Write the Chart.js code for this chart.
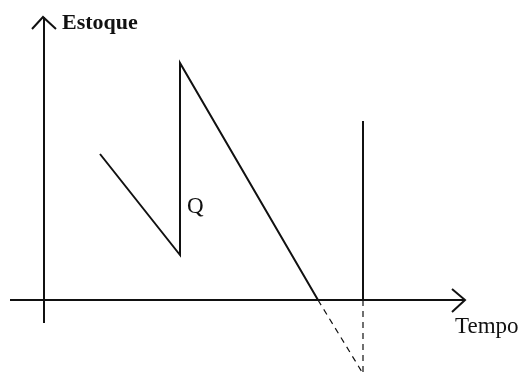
<!DOCTYPE html>
<html>
<head>
<meta charset="utf-8">
<script src="https://cdn.jsdelivr.net/npm/chart.js@4"></script>
<style>
  html, body { margin: 0; padding: 0; background: #fff; }
  #wrap { width: 522px; height: 375px; }
</style>
</head>
<body>
<div id="wrap"><canvas id="stockChart" width="522" height="375"></canvas></div>
<script>
// sawtooth stock level (time, stock)
const sawTempo = [5.6, 13.6, 13.6, 27.4];
const sawEstoque = [14.6, 4.5, 23.7, 0];
// shortage continuation (dashed)
const faltaTempo = [27.4, 31.8];
const faltaEstoque = [0, -7.2];
// vertical order line
const pedidoTempo = [31.9, 31.9];
const pedidoEstoque = [17.9, 0];
const pedidoDashEstoque = [0, -7.2];
// axes
const eixoXTempo = [-3.4, 42.1];
const eixoYEstoque = [-2.3, 28.3];

const toPts = (xs, ys) => xs.map((x, i) => ({ x: x, y: ys[i] }));
const ink = '#111';

const solid = (data, w) => ({
    data: data, borderColor: ink, borderWidth: w || 2, pointRadius: 0,
    showLine: true, fill: false, tension: 0
});
const dashed = (data) => ({
    data: data, borderColor: ink, borderWidth: 1.2, pointRadius: 0,
    showLine: true, fill: false, borderDash: [6, 5]
});

// text labels drawn at data positions
const labelsPlugin = {
    id: 'labels',
    afterDatasetsDraw(chart) {
        const c = chart.ctx, xs = chart.scales.x, ys = chart.scales.y;
        c.save();
        c.fillStyle = ink;
        c.textBaseline = 'alphabetic';
        c.font = 'bold 22px "Liberation Serif"';
        c.fillText('Estoque', xs.getPixelForValue(1.8), ys.getPixelForValue(27.1));
        c.font = '23px "Liberation Serif"';
        c.fillText('Q', xs.getPixelForValue(14.3), ys.getPixelForValue(8.7));
        c.fillText('Tempo', xs.getPixelForValue(41.1), ys.getPixelForValue(-3.3));
        c.restore();
    }
};

const ctx = document.getElementById('stockChart').getContext('2d');
const stockChart = new Chart(ctx, {
    type: 'scatter',
    data: {
        datasets: [
            solid(toPts(eixoXTempo, [0, 0])),
            solid(toPts([0, 0], eixoYEstoque)),
            solid(toPts([40.8, 42.1, 40.8], [1.1, 0, -1.2])),
            solid(toPts([-1.2, -0.1, 1.2], [27.1, 28.3, 27.1])),
            solid(toPts(sawTempo, sawEstoque)),
            solid(toPts(pedidoTempo, pedidoEstoque)),
            dashed(toPts(faltaTempo, faltaEstoque)),
            dashed(toPts(pedidoTempo, pedidoDashEstoque))
        ]
    },
    options: {
        responsive: false,
        animation: false,
        layout: { padding: 0 },
        plugins: { legend: { display: false }, tooltip: { enabled: false } },
        scales: {
            x: { type: 'linear', min: -4.4, max: 47.8, display: false },
            y: { type: 'linear', min: -7.5, max: 30, display: false }
        }
    },
    plugins: [labelsPlugin]
});
</script>
</body>
</html>
